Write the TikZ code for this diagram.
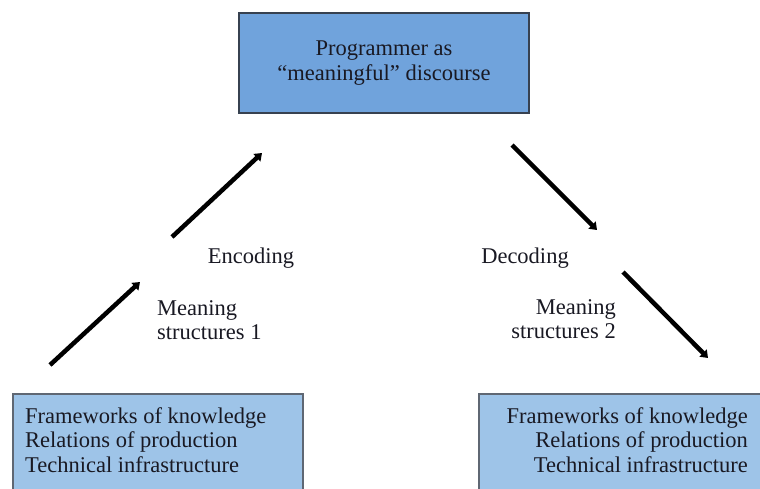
\documentclass[tikz,border=0pt]{standalone}
\usepackage{fontspec}
\setmainfont{Liberation Serif}
\usetikzlibrary{arrows.meta}
\definecolor{topfill}{RGB}{112,163,220}
\definecolor{botfill}{RGB}{158,196,232}
\definecolor{edgec}{RGB}{55,65,80}
\definecolor{txt}{RGB}{25,25,35}
\begin{document}
\begin{tikzpicture}[x=1pt,y=-1pt,
  every node/.style={font=\fontsize{22.5}{24.5}\selectfont, text=txt, inner sep=0pt},
  topbox/.style={draw=edgec, line width=1.3pt, fill=topfill, align=center},
  botbox/.style={draw=edgec!80, line width=1.5pt, fill=botfill},
  arr/.style={line width=4.5pt, -{Triangle[length=7pt,width=10pt]}, black}
]
\useasboundingbox (0,0) rectangle (760,489);
\clip (0,0) rectangle (760,489);

\node[topbox, minimum width=290pt, minimum height=100pt] (top) at (384,63) {Programmer as\\“meaningful” discourse};

\node[botbox, minimum width=290pt, minimum height=110pt, anchor=north west] (lbox) at (12,393) {};
\node[align=left, anchor=west] (ltext) at (25,440) {Frameworks of knowledge\\Relations of production\\Technical infrastructure};

\node[botbox, minimum width=290pt, minimum height=110pt, anchor=north west] (rbox) at (478,393) {};
\node[align=right, anchor=east] (rtext) at (748,440) {Frameworks of knowledge\\Relations of production\\Technical infrastructure};

\coordinate (a1s) at (50,365);
\coordinate (a1e) at (140,282);
\coordinate (a2s) at (172,237);
\coordinate (a2e) at (262,153);
\coordinate (a3s) at (512,145);
\coordinate (a3e) at (597,230);
\coordinate (a4s) at (623,272);
\coordinate (a4e) at (708,358);
\draw[arr] (a1s) -- (a1e);
\draw[arr] (a2s) -- (a2e);
\draw[arr] (a3s) -- (a3e);
\draw[arr] (a4s) -- (a4e);

\node (enc) at (251,258) {Encoding};
\node[align=left, anchor=west] (ms1) at (157,320) {Meaning\\structures 1};
\node (dec) at (525,258) {Decoding};
\node[align=right, anchor=east] (ms2) at (616,319) {Meaning\\structures 2};
\end{tikzpicture}
\end{document}
